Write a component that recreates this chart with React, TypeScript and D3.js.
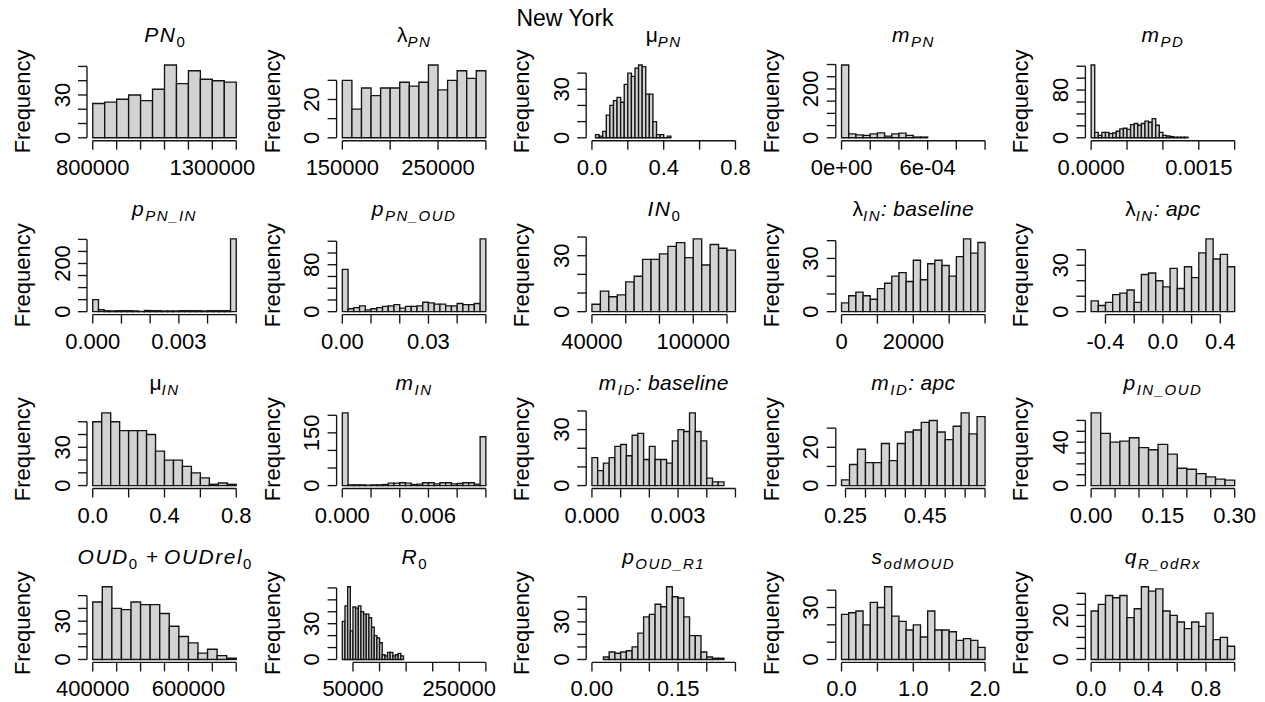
import React from 'react';
import * as d3 from 'd3';

// ---------- data (counts) ----------
const pn0Counts = [24, 25, 27, 30, 26, 34, 51, 38, 47, 41, 40, 39];
const lambdaPNCounts = [30, 15, 26, 22, 26, 26, 29, 27, 29, 38, 25, 30, 35, 31, 35];
const muPNCounts = [2, 1, 4, 14, 20, 23, 25, 22, 33, 40, 38, 43, 45, 44, 27, 27, 10, 2, 2, 0, 1];
const mPNCounts = [298, 16, 12, 10, 16, 20, 7, 16, 19, 10, 3, 3];
const mPDCounts = [122, 9, 4, 9, 9, 7, 8, 11, 15, 16, 14, 22, 24, 21, 24, 28, 26, 32, 21, 9, 4, 3, 2, 1, 1, 1, 1];
const pPNINCounts = [50, 8, 4, 3, 4, 4, 4, 3, 1, 5, 4, 4, 3, 3, 3, 4, 4, 4, 4, 3, 4, 4, 4, 4, 302];
const pPNOUDCounts = [72, 5, 7, 10, 3, 5, 7, 9, 10, 12, 6, 9, 9, 10, 16, 15, 13, 13, 10, 10, 14, 12, 12, 14, 124];
const in0Counts = [4, 11, 8, 9, 16, 19, 28, 28, 31, 35, 37, 29, 39, 25, 36, 34, 33];
const lambdaINBaseCounts = [5, 9, 11, 9, 7, 13, 16, 20, 22, 17, 29, 18, 27, 29, 26, 20, 31, 41, 33, 39];
const lambdaINApcCounts = [7, 4, 6, 11, 12, 14, 6, 24, 25, 20, 16, 28, 15, 29, 22, 38, 47, 34, 37, 29];
const muINCounts = [50, 57, 50, 43, 43, 43, 40, 27, 20, 20, 15, 10, 6, 1, 2, 1];
const mINCounts = [207, 2, 2, 2, 1, 2, 2, 3, 7, 7, 8, 7, 3, 4, 8, 8, 5, 8, 8, 5, 6, 8, 8, 4, 139];
const mIDBaseCounts = [15, 8, 12, 15, 21, 22, 16, 27, 28, 14, 21, 14, 14, 12, 24, 30, 29, 39, 29, 24, 4, 2, 2];
const mIDApcCounts = [3, 11, 19, 12, 12, 22, 13, 22, 28, 29, 33, 34, 28, 24, 31, 38, 27, 36];
const pINOUDCounts = [67, 48, 40, 41, 44, 35, 33, 38, 29, 16, 15, 11, 8, 6, 5];
const oudCounts = [45, 57, 40, 39, 45, 43, 43, 36, 26, 18, 13, 5, 8, 3, 1];
const r0Counts = [32, 45, 61, 24, 44, 43, 45, 40, 38, 38, 35, 27, 20, 18, 14, 4, 3, 6, 6, 3, 4, 5, 3];
const pOUDR1Counts = [2, 6, 5, 6, 7, 10, 21, 34, 36, 44, 42, 58, 50, 49, 34, 19, 19, 6, 2, 1, 1];
const sodMOUDCounts = [26, 27, 28, 20, 33, 30, 42, 25, 22, 17, 20, 13, 28, 17, 17, 16, 11, 12, 11, 7];
const qRodRxCounts = [22, 25, 29, 28, 29, 19, 23, 33, 31, 32, 22, 20, 17, 14, 17, 15, 21, 9, 10, 6];

// bin starts / widths
const binStarts = [800000, 150000, 0.02, 0, 0, 0, 0, 40000, 0, -0.5, 0, 0, 0, 0.24, 0, 400000, 30000, 0.02, 0, 0];
const binWidths = [50000, 10000, 0.02, 5e-5, 5e-5, 0.0002, 0.002, 5000, 2000, 0.05, 0.05, 0.0004, 0.0002, 0.02, 0.02, 20000, 5000, 0.01, 0.1, 0.05];
const xLimits: [number, number][] = [
  [800000, 1400000], [150000, 300000], [0, 0.8], [0, 0.001], [0, 0.002],
  [0, 0.005], [0, 0.05], [40000, 125000], [0, 40000], [-0.5, 0.5],
  [0, 0.8], [0, 0.01], [0, 0.005], [0.24, 0.6], [0, 0.3],
  [400000, 700000], [30000, 300000], [0, 0.25], [0, 2], [0, 1],
];

// x ticks: [first, last, step]; labels shown (value -> text)
const xTickSpecs: [number, number, number][] = [
  [800000, 1400000, 100000], [150000, 300000, 50000], [0, 0.8, 0.2], [0, 0.001, 0.0002], [0, 0.002, 0.0005],
  [0, 0.005, 0.001], [0, 0.05, 0.01], [40000, 120000, 20000], [0, 40000, 10000], [-0.4, 0.4, 0.2],
  [0, 0.8, 0.2], [0, 0.01, 0.002], [0, 0.005, 0.001], [0.25, 0.6, 0.05], [0, 0.3, 0.05],
  [400000, 700000, 50000], [50000, 300000, 50000], [0, 0.25, 0.05], [0, 2, 0.5], [0, 1, 0.2],
];
const xTickLabels: [number, string][][] = [
  [[800000, '800000'], [1300000, '1300000']],
  [[150000, '150000'], [250000, '250000']],
  [[0, '0.0'], [0.4, '0.4'], [0.8, '0.8']],
  [[0, '0e+00'], [0.0006, '6e-04']],
  [[0, '0.0000'], [0.0015, '0.0015']],
  [[0, '0.000'], [0.003, '0.003']],
  [[0, '0.00'], [0.03, '0.03']],
  [[40000, '40000'], [100000, '100000']],
  [[0, '0'], [20000, '20000']],
  [[-0.4, '-0.4'], [0, '0.0'], [0.4, '0.4']],
  [[0, '0.0'], [0.4, '0.4'], [0.8, '0.8']],
  [[0, '0.000'], [0.006, '0.006']],
  [[0, '0.000'], [0.003, '0.003']],
  [[0.25, '0.25'], [0.45, '0.45']],
  [[0, '0.00'], [0.15, '0.15'], [0.3, '0.30']],
  [[400000, '400000'], [600000, '600000']],
  [[50000, '50000'], [250000, '250000']],
  [[0, '0.00'], [0.15, '0.15']],
  [[0, '0.0'], [1, '1.0'], [2, '2.0']],
  [[0, '0.0'], [0.4, '0.4'], [0.8, '0.8']],
];
// y ticks: [top, step]; labels shown
const yTickSpecs: [number, number][] = [
  [50, 10], [30, 10], [40, 10], [300, 50], [120, 20],
  [300, 50], [120, 20], [40, 10], [40, 10], [40, 10],
  [50, 10], [200, 50], [40, 10], [30, 10], [60, 10],
  [50, 10], [60, 10], [50, 10], [40, 10], [30, 5],
];
const yTickLabels: number[][] = [
  [0, 30], [0, 20], [0, 30], [0, 200], [0, 80],
  [0, 200], [0, 80], [0, 30], [0, 30], [0, 30],
  [0, 30], [0, 150], [0, 30], [0, 20], [0, 40],
  [0, 30], [0, 30], [0, 30], [0, 30], [0, 20],
];
const allCounts = [
  pn0Counts, lambdaPNCounts, muPNCounts, mPNCounts, mPDCounts,
  pPNINCounts, pPNOUDCounts, in0Counts, lambdaINBaseCounts, lambdaINApcCounts,
  muINCounts, mINCounts, mIDBaseCounts, mIDApcCounts, pINOUDCounts,
  oudCounts, r0Counts, pOUDR1Counts, sodMOUDCounts, qRodRxCounts,
];

// title pieces: [text, kind] kind: i=italic, w=italic word, n=normal, si=sub italic, sn=sub normal
type Piece = [string, string];
const titles: Piece[][] = [
  [['PN', 'i'], ['0', 'sn']],
  [['λ', 'n'], ['PN', 'si']],
  [['μ', 'n'], ['PN', 'si']],
  [['m', 'i'], ['PN', 'si']],
  [['m', 'i'], ['PD', 'si']],
  [['p', 'i'], ['PN_IN', 'si']],
  [['p', 'i'], ['PN_OUD', 'si']],
  [['IN', 'i'], ['0', 'sn']],
  [['λ', 'n'], ['IN', 'si'], [': baseline', 'w']],
  [['λ', 'n'], ['IN', 'si'], [': apc', 'w']],
  [['μ', 'n'], ['IN', 'si']],
  [['m', 'i'], ['IN', 'si']],
  [['m', 'i'], ['ID', 'si'], [': baseline', 'w']],
  [['m', 'i'], ['ID', 'si'], [': apc', 'w']],
  [['p', 'i'], ['IN_OUD', 'si']],
  [['OUD', 'i'], ['0', 'sn'], ['+', 'n'], ['OUDrel', 'i'], ['0', 'sn']],
  [['R', 'i'], ['0', 'sn']],
  [['p', 'i'], ['OUD_R1', 'si']],
  [['s', 'i'], ['odMOUD', 'si']],
  [['q', 'i'], ['R_odRx', 'si']],
];

const FONT = "'Liberation Sans', Arial, Helvetica, sans-serif";
const INK = '#141414';

function Title({ pieces, cx, y }: { pieces: Piece[]; cx: number; y: number }) {
  let inSub = false;
  const spans = pieces.map((p, i) => {
    const [t, k] = p;
    const sub = k.startsWith('s');
    const italic = k.endsWith('i') || k === 'w';
    let dy = 0;
    if (sub && !inSub) dy = 5;
    if (!sub && inSub) dy = -5;
    inSub = sub;
    return (
      <tspan key={i} dy={dy} fontSize={sub ? 15 : 21} fontStyle={italic ? 'italic' : 'normal'}
        letterSpacing={k === 'w' ? 0.3 : italic ? 1.5 : 0} dx={k === 'n' && t === '+' ? 3 : 0}>
        {t === '+' ? ' + ' : t}
      </tspan>
    );
  });
  return (
    <text x={cx} y={y} textAnchor="middle" fontFamily={FONT} fill="#000">{spans}</text>
  );
}

function Hist({ idx }: { idx: number }) {
  const col = idx % 5;
  const row = Math.floor(idx / 5);
  const L = 87 + 249.6 * col;
  const W = 155;
  const B = 140.7 + 173.9 * row;
  const H = 78.6;
  const counts = allCounts[idx];
  const start = binStarts[idx];
  const bw = binWidths[idx];
  const [x0, x1] = xLimits[idx];
  const dx = (x1 - x0) * 0.04;
  const x = d3.scaleLinear().domain([x0 - dx, x1 + dx]).range([L, L + W]);
  const ymax = d3.max(counts) as number;
  const y = d3.scaleLinear().domain([-0.04 * ymax, 1.04 * ymax]).range([B, B - H]);
  const [tf, tl, ts] = xTickSpecs[idx];
  const nx = Math.round((tl - tf) / ts);
  const xt = d3.range(nx + 1).map((i) => tf + i * ts);
  const [yTop, yStep] = yTickSpecs[idx];
  const yt = d3.range(Math.round(yTop / yStep) + 1).map((i) => i * yStep);

  return (
    <g>
      {counts.map((c, i) => {
        const a = x(start + i * bw);
        const b = x(start + (i + 1) * bw);
        const p = d3.path();
        p.moveTo(a, y(0));
        p.lineTo(a, y(c));
        p.lineTo(b, y(c));
        p.lineTo(b, y(0));
        p.closePath();
        return <path key={i} d={p.toString()} fill="#d3d3d3" stroke={INK} strokeWidth={1.35} />;
      })}
      {/* x axis */}
      <line x1={x(xt[0])} x2={x(xt[xt.length - 1])} y1={B} y2={B} stroke={INK} strokeWidth={1.35} />
      {xt.map((v, i) => (
        <line key={i} x1={x(v)} x2={x(v)} y1={B} y2={B + 9} stroke={INK} strokeWidth={1.35} />
      ))}
      {xTickLabels[idx].map(([v, s], i) => (
        <text key={i} x={x(v)} y={B + 34} textAnchor="middle" fontFamily={FONT} fontSize={22} fill="#000">{s}</text>
      ))}
      {/* y axis */}
      <line x1={L} x2={L} y1={y(0)} y2={y(yt[yt.length - 1])} stroke={INK} strokeWidth={1.35} />
      {yt.map((v, i) => (
        <line key={i} x1={L} x2={L - 9} y1={y(v)} y2={y(v)} stroke={INK} strokeWidth={1.35} />
      ))}
      {yTickLabels[idx].map((v, i) => (
        <text key={i} transform={`translate(${L - 17.5},${y(v)}) rotate(-90)`} textAnchor="middle"
          fontFamily={FONT} fontSize={22} fill="#000">{v}</text>
      ))}
      <text transform={`translate(${L - 57},${B - H / 2}) rotate(-90)`} textAnchor="middle"
        fontFamily={FONT} fontSize={22} fill="#000">Frequency</text>
      <Title pieces={titles[idx]} cx={L + W / 2} y={B - H - 20} />
    </g>
  );
}

export default function App() {
  return (
    <svg width={1265} height={702} style={{ position: 'absolute', left: 0, top: 0, background: '#fff' }}>
      <rect x={0} y={0} width={1265} height={702} fill="#fff" />
      <text x={565} y={26} textAnchor="middle" fontFamily={FONT} fontSize={23} fill="#000">New York</text>
      {allCounts.map((_, i) => (
        <Hist key={i} idx={i} />
      ))}
    </svg>
  );
}
